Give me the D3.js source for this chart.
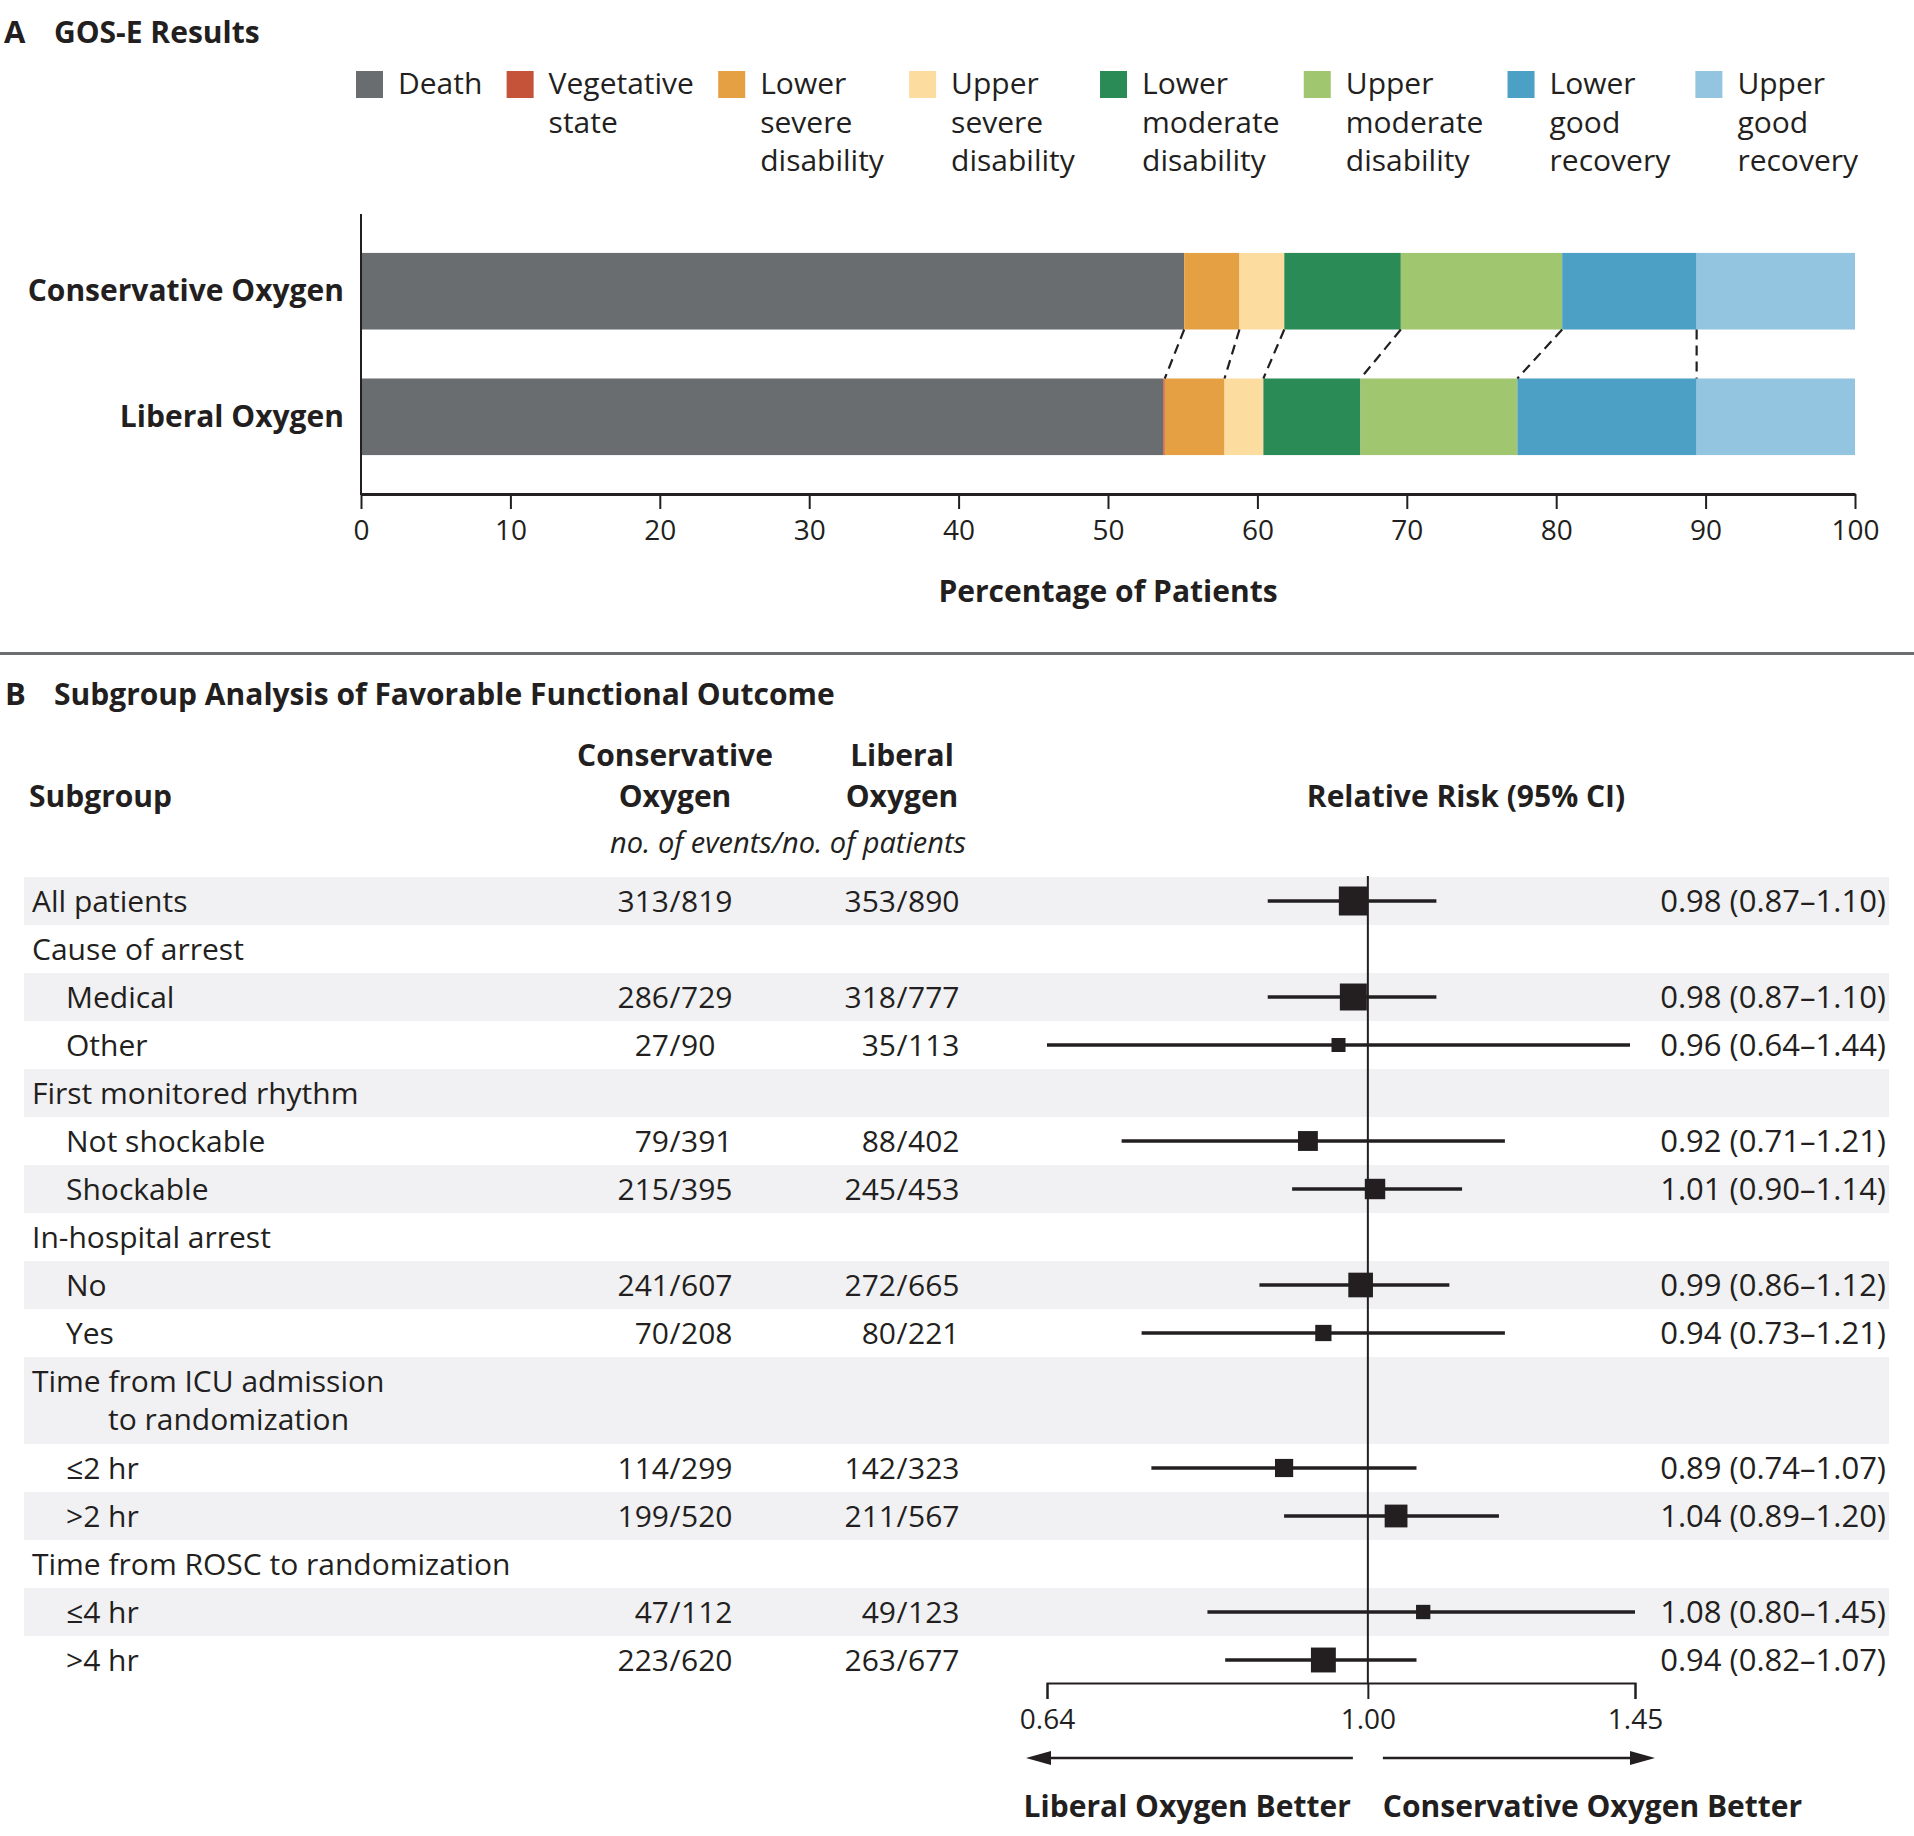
<!DOCTYPE html>
<html>
<head>
<meta charset="utf-8">
<script src="https://cdn.jsdelivr.net/npm/d3@7"></script>
<style>
  body { margin: 0; background: #fff; }
  svg text { font-family: "Open Sans", Lato, sans-serif; fill: #231f20; }
  .bold { font-weight: 700; }
</style>
</head>
<body>
<svg id="chart" width="1914" height="1836"></svg>
<script>
// ---- panel A data (percent of patients)
var categories = ['Death', 'Vegetative state', 'Lower severe disability', 'Upper severe disability',
  'Lower moderate disability', 'Upper moderate disability', 'Lower good recovery', 'Upper good recovery']
var legendLines = [['Death'], ['Vegetative', 'state'], ['Lower', 'severe', 'disability'], ['Upper', 'severe', 'disability'],
  ['Lower', 'moderate', 'disability'], ['Upper', 'moderate', 'disability'], ['Lower', 'good', 'recovery'], ['Upper', 'good', 'recovery']]
var categoryColors = ['#6a6d70', '#c5533a', '#e4a042', '#fddca0', '#2b8b57', '#a0c66f', '#4c9fc5', '#93c4e0']
var groups = ['Conservative Oxygen', 'Liberal Oxygen']
var conservativePct = [55.1, 0.0, 3.7, 3.0, 7.8, 10.8, 9.0, 10.6]
var liberalPct = [53.7, 0.1, 4.0, 2.6, 6.5, 10.5, 12.0, 10.6]
var pctTicks = d3.range(0, 101, 10)

// ---- panel B data
var subgroups = ['All patients', 'Cause of arrest', 'Medical', 'Other', 'First monitored rhythm', 'Not shockable',
  'Shockable', 'In-hospital arrest', 'No', 'Yes', 'Time from ICU admission\nto randomization', '\u22642 hr', '>2 hr',
  'Time from ROSC to randomization', '\u22644 hr', '>4 hr']
var indented = [0, 0, 1, 1, 0, 1, 1, 0, 1, 1, 0, 1, 1, 0, 1, 1]
var consEvents = [313, null, 286, 27, null, 79, 215, null, 241, 70, null, 114, 199, null, 47, 223]
var consTotal = [819, null, 729, 90, null, 391, 395, null, 607, 208, null, 299, 520, null, 112, 620]
var libEvents = [353, null, 318, 35, null, 88, 245, null, 272, 80, null, 142, 211, null, 49, 263]
var libTotal = [890, null, 777, 113, null, 402, 453, null, 665, 221, null, 323, 567, null, 123, 677]
var rr = [0.98, null, 0.98, 0.96, null, 0.92, 1.01, null, 0.99, 0.94, null, 0.89, 1.04, null, 1.08, 0.94]
var rrLow = [0.87, null, 0.87, 0.64, null, 0.71, 0.90, null, 0.86, 0.73, null, 0.74, 0.89, null, 0.80, 0.82]
var rrHigh = [1.10, null, 1.10, 1.44, null, 1.21, 1.14, null, 1.12, 1.21, null, 1.07, 1.20, null, 1.45, 1.07]
var rrTicks = [0.64, 1.00, 1.45]

var ink = '#231f20'
var fs = 30
var svg = d3.select('#chart')

// ================= Panel A =================
svg.append('text').attr('class', 'bold').attr('x', 4).attr('y', 43).attr('font-size', 31).text('A')
svg.append('text').attr('class', 'bold').attr('x', 54).attr('y', 43).attr('font-size', fs).text('GOS-E Results')

// legend, spread between the plot edges
var legend = svg.append('g')
var items = legend.selectAll('g').data(categories).enter().append('g')
items.append('rect')
  .attr('y', 71).attr('width', 27).attr('height', 27)
  .attr('fill', function(d, i){ return categoryColors[i] })
items.each(function(d, i){
  var t = d3.select(this).append('text').attr('x', 42).attr('font-size', fs)
  legendLines[i].forEach(function(line, j){
    t.append('tspan').attr('x', 42).attr('y', 94 + j * 38.5).text(line)
  })
})
var widths = []
items.each(function(){ widths.push(this.getBBox().width) })
var legendStart = 356, legendEnd = 1859
var gap = (legendEnd - legendStart - d3.sum(widths)) / (widths.length - 1)
var cursor = legendStart
items.attr('transform', function(d, i){
  var tx = cursor
  cursor += widths[i] + gap
  return 'translate(' + tx + ',0)'
})

var x = d3.scaleLinear().domain([0, 100]).range([361, 1855])
var y = d3.scaleBand().domain(groups).range([214, 494]).paddingInner(0.39).paddingOuter(0.31)

var table = groups.map(function(g, gi){
  var row = { group: g }
  var vals = gi === 0 ? conservativePct : liberalPct
  categories.forEach(function(c, ci){ row[c] = vals[ci] })
  return row
})
var series = d3.stack().keys(categories)(table)

svg.append('g').selectAll('g').data(series).enter().append('g')
  .attr('fill', function(d, i){ return categoryColors[i] })
  .selectAll('rect').data(function(d){ return d }).enter().append('rect')
    .attr('x', function(d){ return x(d[0]) })
    .attr('width', function(d){ return Math.max(0, x(d[1]) - x(d[0])) })
    .attr('y', function(d){ return y(d.data.group) })
    .attr('height', y.bandwidth())

// dashed links between matching cumulative boundaries
var links = series.slice(1, 7)
svg.append('g').selectAll('line').data(links).enter().append('line')
  .attr('x1', function(s){ return x(s[0][1]) })
  .attr('x2', function(s){ return x(s[1][1]) })
  .attr('y1', y(groups[0]) + y.bandwidth())
  .attr('y2', y(groups[1]))
  .attr('stroke', ink).attr('stroke-width', 2.2).attr('stroke-dasharray', '10,6')

// axes
var xAxis = svg.append('g').attr('transform', 'translate(0,494)')
  .call(d3.axisBottom(x).tickValues(pctTicks).tickSize(15).tickSizeOuter(0).tickPadding(11))
xAxis.attr('font-family', null)
xAxis.select('.domain').attr('stroke', ink).attr('stroke-width', 3)
xAxis.selectAll('.tick line').attr('stroke', ink).attr('stroke-width', 2)
xAxis.selectAll('.tick text').attr('font-size', 28).attr('fill', ink)

svg.append('line').attr('x1', 361).attr('x2', 361).attr('y1', 214).attr('y2', 495)
  .attr('stroke', ink).attr('stroke-width', 2)

svg.append('g').selectAll('text').data(groups).enter().append('text')
  .attr('class', 'bold').attr('font-size', fs).attr('text-anchor', 'end')
  .attr('x', 344).attr('y', function(d){ return y(d) + y.bandwidth() / 2 + 10 })
  .text(function(d){ return d })

svg.append('text').attr('class', 'bold').attr('font-size', fs).attr('text-anchor', 'middle')
  .attr('x', (x(0) + x(100)) / 2).attr('y', 602).text('Percentage of Patients')

// divider
svg.append('rect').attr('x', 0).attr('y', 652).attr('width', 1914).attr('height', 3).attr('fill', '#6d6e70')

// ================= Panel B =================
svg.append('text').attr('class', 'bold').attr('x', 5).attr('y', 705).attr('font-size', 31).text('B')
svg.append('text').attr('class', 'bold').attr('x', 54).attr('y', 705).attr('font-size', fs)
  .text('Subgroup Analysis of Favorable Functional Outcome')

var consX = 675, libX = 902, valueX = 1886
svg.append('text').attr('class', 'bold').attr('x', 29).attr('y', 807).attr('font-size', fs).text('Subgroup')
;[['Conservative', 'Oxygen', consX], ['Liberal', 'Oxygen', libX]].forEach(function(h){
  svg.append('text').attr('class', 'bold').attr('text-anchor', 'middle').attr('font-size', fs)
    .attr('x', h[2]).attr('y', 766).text(h[0])
  svg.append('text').attr('class', 'bold').attr('text-anchor', 'middle').attr('font-size', fs)
    .attr('x', h[2]).attr('y', 807).text(h[1])
})
svg.append('text').attr('font-style', 'italic').attr('text-anchor', 'middle').attr('font-size', 29)
  .attr('x', 788).attr('y', 853).text('no. of events/no. of patients')
svg.append('text').attr('class', 'bold').attr('text-anchor', 'middle').attr('font-size', fs)
  .attr('x', 1466).attr('y', 807).text('Relative Risk (95% CI)')

// row layout
var rowTop = [], rowCursor = 877
subgroups.forEach(function(s){
  rowTop.push(rowCursor)
  rowCursor += s.indexOf('\n') >= 0 ? 87 : 48
})
var axisY = rowCursor - 1

var xRR = d3.scaleLog().domain([0.64, 1.45]).range([1047, 1635])
var boxSize = d3.scaleLinear().domain([203, 1709]).range([14, 29])

var rows = svg.append('g').selectAll('g').data(subgroups).enter().append('g')
  .attr('transform', function(d, i){ return 'translate(0,' + rowTop[i] + ')' })

rows.filter(function(d, i){ return i % 2 === 0 }).append('rect')
  .attr('x', 24).attr('width', 1865)
  .attr('height', function(d){ return d.indexOf('\n') >= 0 ? 87 : 48 })
  .attr('fill', '#f1f1f3')

rows.each(function(d, i){
  var g = d3.select(this)
  var lx = indented[i] ? 66 : 32
  d.split('\n').forEach(function(line, j){
    g.append('text').attr('font-size', fs).attr('x', j ? 108 : lx).attr('y', 35 + j * 38).text(line)
  })
  if (consEvents[i] == null) return
  ;[[consEvents[i], consTotal[i], consX], [libEvents[i], libTotal[i], libX]].forEach(function(c){
    g.append('text').attr('font-size', fs).attr('text-anchor', 'end').attr('x', c[2] - 6).attr('y', 35).text(c[0])
    g.append('text').attr('font-size', fs).attr('text-anchor', 'middle').attr('x', c[2]).attr('y', 35).text('/')
    g.append('text').attr('font-size', fs).attr('text-anchor', 'start').attr('x', c[2] + 6).attr('y', 35).text(c[1])
  })
  g.append('text').attr('font-size', 31).attr('text-anchor', 'end').attr('x', valueX).attr('y', 35)
    .text(rr[i].toFixed(2) + ' (' + rrLow[i].toFixed(2) + '\u2013' + rrHigh[i].toFixed(2) + ')')
})

// reference line at 1.00
svg.append('line').attr('x1', xRR(1)).attr('x2', xRR(1)).attr('y1', 876).attr('y2', axisY)
  .attr('stroke', ink).attr('stroke-width', 2)

// CI lines and boxes
rows.each(function(d, i){
  if (rr[i] == null) return
  var g = d3.select(this)
  g.append('line').attr('x1', xRR(rrLow[i])).attr('x2', xRR(rrHigh[i])).attr('y1', 24).attr('y2', 24)
    .attr('stroke', ink).attr('stroke-width', 3.5)
  var s = boxSize(consTotal[i] + libTotal[i])
  g.append('rect').attr('x', xRR(rr[i]) - s / 2).attr('y', 24 - s / 2).attr('width', s).attr('height', s)
    .attr('fill', ink)
})

// RR axis
var rrAxis = svg.append('g').attr('transform', 'translate(0,' + axisY + ')')
  .call(d3.axisBottom(xRR).tickValues(rrTicks).tickFormat(d3.format('.2f')).tickSize(16).tickPadding(10))
rrAxis.attr('font-family', null)
rrAxis.select('.domain').attr('stroke', ink).attr('stroke-width', 2)
rrAxis.selectAll('.tick line').attr('stroke', ink).attr('stroke-width', 2)
rrAxis.selectAll('.tick text').attr('font-size', 28).attr('fill', ink)

// direction arrows
var arrowY = axisY + 75
function arrow(x1, x2){
  var dir = x2 > x1 ? 1 : -1
  svg.append('line').attr('x1', x1).attr('x2', x2 - dir * 20).attr('y1', arrowY).attr('y2', arrowY)
    .attr('stroke', ink).attr('stroke-width', 2.5)
  svg.append('path')
    .attr('d', 'M' + x2 + ',' + arrowY + 'L' + (x2 - dir * 25) + ',' + (arrowY - 7) + 'L' + (x2 - dir * 25) + ',' + (arrowY + 7) + 'Z')
    .attr('fill', ink)
}
arrow(xRR(1) - 15, xRR(0.64) - 21)
arrow(xRR(1) + 15, xRR(1.45) + 20)

svg.append('text').attr('class', 'bold').attr('font-size', fs).attr('text-anchor', 'end')
  .attr('x', xRR(1) - 17).attr('y', arrowY + 59).text('Liberal Oxygen Better')
svg.append('text').attr('class', 'bold').attr('font-size', fs).attr('text-anchor', 'start')
  .attr('x', xRR(1) + 15).attr('y', arrowY + 59).text('Conservative Oxygen Better')
</script>
</body>
</html>
